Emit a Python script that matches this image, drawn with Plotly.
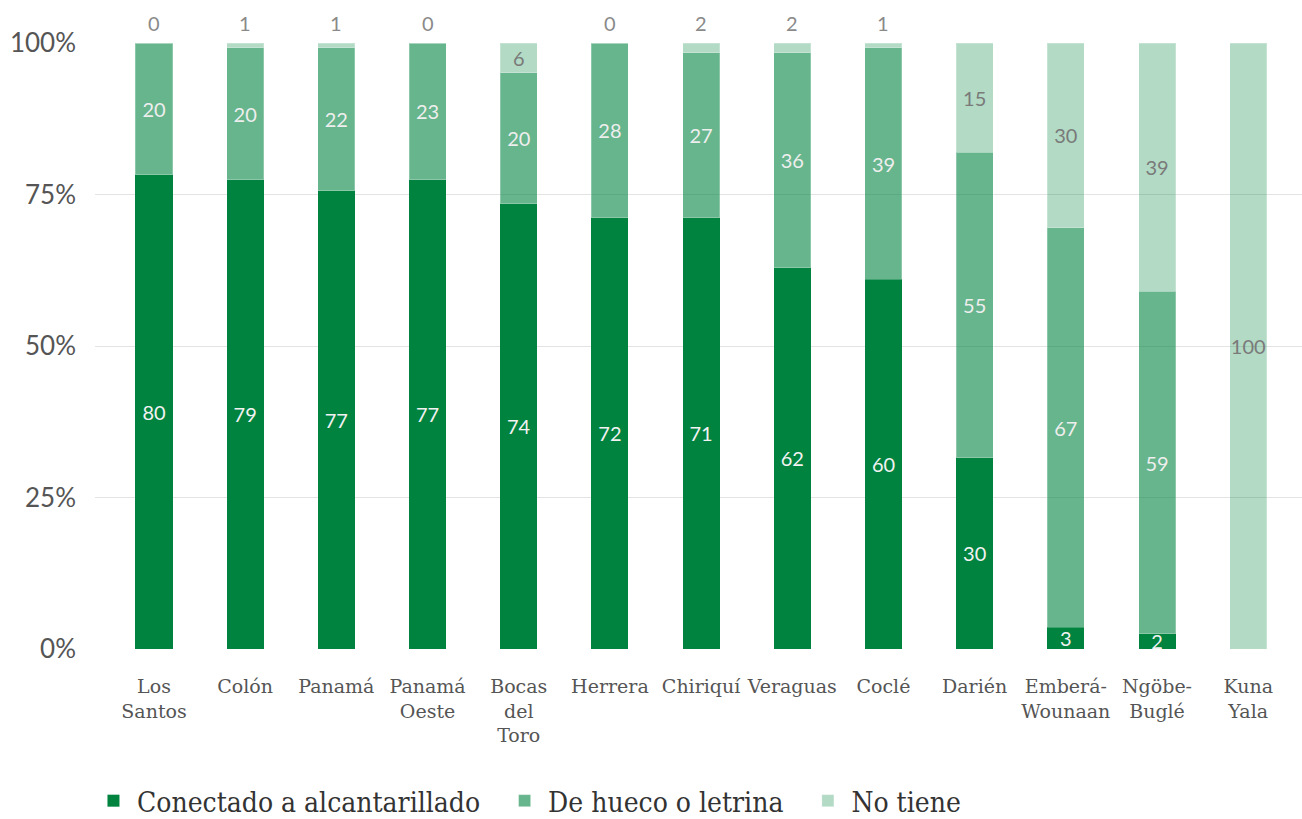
import plotly.graph_objects as go

categories = ["Los<br>Santos", "Colón", "Panamá", "Panamá<br>Oeste", "Bocas<br>del<br>Toro",
              "Herrera", "Chiriquí", "Veraguas", "Coclé", "Darién",
              "Emberá-<br>Wounaan", "Ngöbe-<br>Buglé", "Kuna<br>Yala"]

series_names = ["Conectado a alcantarillado", "De hueco o letrina", "No tiene"]

# bar heights (share of households, %) as drawn
conectado = [78.3, 77.4, 75.6, 77.4, 73.5, 71.2, 71.2, 62.9, 61.0, 31.6, 3.6, 2.5, 0]
hueco = [21.7, 21.8, 23.6, 22.6, 21.6, 28.8, 27.2, 35.5, 38.2, 50.4, 65.9, 56.5, 0]
no_tiene = [0, 0.8, 0.8, 0, 4.9, 0, 1.6, 1.6, 0.8, 18.0, 30.5, 41.0, 100]

# printed labels
conectado_lbl = [80, 79, 77, 77, 74, 72, 71, 62, 60, 30, 3, 2, 0]
hueco_lbl = [20, 20, 22, 23, 20, 28, 27, 36, 39, 55, 67, 59, 0]
no_tiene_lbl = [0, 1, 1, 0, 6, 0, 2, 2, 1, 15, 30, 39, 100]

y_ticks = [0, 25, 50, 75, 100]
y_tick_labels = ["0%", "25%", "50%", "75%", "100%"]

x_idx = list(range(len(categories)))
colors = ["rgb(0,131,63)", "rgba(0,131,63,0.6)", "rgba(0,131,63,0.3)"]
LATO = "Lato"
PAD = "\u00a0\u00a0"

fig = go.Figure()
fig.add_trace(go.Bar(
    x=x_idx, y=conectado, name=series_names[0] + PAD, marker_color=colors[0],
    marker_line_width=0,
    text=[str(v) if v > 0 else "" for v in conectado_lbl],
    textposition="inside", insidetextanchor="middle", constraintext="none",
    textfont=dict(family=LATO, size=20, color="#f2f2f2"), textangle=0))
fig.add_trace(go.Bar(
    x=x_idx, y=hueco, name=series_names[1] + PAD, marker_color=colors[1],
    marker_line=dict(width=1, color="rgba(255,255,255,0.25)"),
    text=[str(v) if v > 0 else "" for v in hueco_lbl],
    textposition="inside", insidetextanchor="middle", constraintext="none",
    textfont=dict(family=LATO, size=20, color="#eeeeee"), textangle=0))
fig.add_trace(go.Bar(
    x=x_idx, y=no_tiene, name=series_names[2], marker_color=colors[2],
    marker_line=dict(width=1, color="rgba(255,255,255,0.25)"),
    text=[str(v) if v >= 5 else "" for v in no_tiene_lbl],
    textposition="inside", insidetextanchor="middle", constraintext="none",
    textfont=dict(family=LATO, size=20, color="#7a7a7a"), textangle=0))

# small "No tiene" values printed above the bars
for i, v in enumerate(no_tiene_lbl):
    if v < 5:
        fig.add_annotation(x=i, y=100, text=str(v), showarrow=False,
                           yanchor="bottom", yshift=6,
                           font=dict(family=LATO, size=20, color="#8a8a8a"))

fig.update_layout(
    width=1302, height=819,
    margin=dict(l=95, r=0, t=43, b=170),
    barmode="stack", bargap=0.594,
    plot_bgcolor="white", paper_bgcolor="white",
    showlegend=True,
    legend=dict(orientation="h", xref="container", yref="container",
                x=0.0691, y=0.022, xanchor="left", yanchor="middle",
                font=dict(family="DejaVu Serif Condensed", size=28, color="#333333"),
                itemwidth=37, traceorder="normal"),
    font=dict(family=LATO),
)
fig.update_xaxes(
    range=[-0.647, 12.59], tickvals=x_idx, ticktext=categories,
    showgrid=False, zeroline=False, showline=False, ticks="",
    ticklabelstandoff=24,
    tickfont=dict(family="DejaVu Serif", size=19, color="#555555"))
fig.update_yaxes(
    range=[0, 100], tickvals=y_ticks, ticktext=y_tick_labels,
    showgrid=True, gridcolor="#e3e3e3", gridwidth=1, zeroline=False,
    showline=False, ticks="", ticklabelstandoff=18,
    tickfont=dict(family=LATO, size=26, color="#555555"))

fig.write_html("out.html", config={"displayModeBar": False},
               post_script="document.body.style.margin='0';document.body.style.overflow='hidden';")
